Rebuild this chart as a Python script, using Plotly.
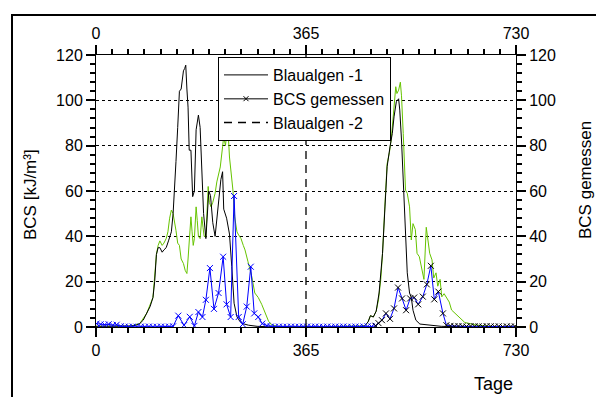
import plotly.graph_objects as go

# ---------------- data ----------------
# Blaualgen -1 (black line), year 1 and 2
black_days = [0, 30, 60, 70, 76, 82, 88, 94, 99, 102, 105, 108, 111, 115, 118, 122, 126, 131, 134, 137,
              139, 142, 145, 148, 150, 152, 154, 156, 158, 160, 162, 165, 168, 171, 174, 176, 178, 181,
              184, 187, 191, 194, 196, 199, 203, 207, 210, 213, 217, 220, 222, 227, 232, 236, 240, 245,
              250, 255, 265, 280, 300, 364,
              365, 460, 467, 473, 477, 482, 487, 492, 498, 502, 506, 511, 515, 518, 522, 526, 528, 531,
              534, 538, 541, 545, 548, 551, 556, 563, 575, 600, 640, 730]
black_vals = [0.3, 0.3, 0.4, 0.8, 1.5, 3, 6, 9, 13, 20, 32, 35, 35, 33, 34, 35, 38, 42, 50, 62,
              73, 88, 104, 105, 110, 113, 114, 115.5, 105, 97, 78, 78, 57.5, 60, 87, 90, 93.5, 88,
              68, 50, 39, 50, 60, 58, 46, 40, 48, 56, 65, 68.5, 52, 48, 41, 26.6, 10.5, 4.5,
              2.5, 1.5, 0.8, 0.3, 0.1, 0,
              0, 0.1, 0.5, 2.3, 5, 4.4, 7, 15, 32.5, 53, 70.7, 79.5, 85.4, 92.7, 99.4, 100.7, 95.7, 82.5,
              63.4, 41.4, 23.9, 15, 13, 7.4, 3, 1.3, 0.9, 0.3, 0.1, 0]

# green simulation curve
green_days = [0, 60, 76, 88, 99, 105, 108, 111, 115, 118, 122, 125, 128, 131, 134, 137, 139, 142, 145,
              148, 152, 155, 158, 160, 162, 165, 167, 169, 171, 174, 176, 178, 181, 184, 186, 188, 191,
              193, 195, 197, 200, 203, 207, 210, 213, 216, 220, 222, 225, 227, 229, 232, 235, 238, 241,
              245, 247, 252, 256, 259, 264, 268, 271, 276, 282, 288, 294, 300, 305, 315, 364,
              365, 467, 473, 477, 482, 487, 491, 495, 498, 502, 506, 510, 513, 517, 521, 523, 526, 529,
              531, 534, 538, 541, 545, 548, 551, 555, 558, 562, 566, 570, 574, 577, 580, 584, 587, 591,
              594, 598, 601, 605, 609, 614, 618, 624, 630, 636, 641, 650, 660, 680, 700, 730]
green_vals = [0.3, 0.4, 1.5, 6, 13, 32, 36, 38, 36, 37, 39, 42, 48, 51.6, 50, 46, 42.6, 37, 36,
              30, 28, 25, 23.6, 30, 38, 48.6, 42, 36, 39, 53, 47, 40, 39, 48.6, 44, 40, 39.7,
              50, 62, 55, 53, 55, 59, 64, 68, 70.6, 79.5, 84, 80, 86, 89, 75, 68, 60.4, 48.6,
              42, 41, 39, 36, 34, 29, 25, 22, 15, 13, 10, 6, 2.5, 1, 0.3, 0,
              0, 0.5, 2.3, 5, 4.4, 7, 12, 21, 32.5, 53, 72, 77, 82.5, 94, 106, 103, 104.5, 108,
              102, 85.4, 60.4, 59, 53, 38.4, 45.6, 43, 32.5, 31, 26.6, 21, 44, 38.4, 32.5, 29.6, 21.6, 23.9,
              18, 21, 13.3, 14.7, 13.3, 11, 7.5, 6, 4.6, 3.1, 2, 1.5, 0.9, 0.4, 0.1, 0]

# BCS gemessen, year 1 (blue line, blue markers)
meas1_days = [1, 8, 15, 22, 29, 36, 43, 50, 57, 64, 71, 78, 85, 92, 99, 106, 113, 120, 127, 134,
              143, 153, 163, 171, 178, 185, 191, 198, 205, 213, 221, 227, 234, 240, 248, 255, 262,
              269, 275, 282, 289, 297, 304, 311, 318, 325, 332, 339, 346, 353, 360,
              367, 374, 381, 388, 395, 402, 409, 416, 423, 430, 437, 444, 451, 458, 465, 472, 479, 486]
meas1_vals = [1.5, 1.2, 1.0, 1.2, 0.8, 1.0, 0.3, 0.2, 0.1, 0.2, 0.1, 0.2, 0.1, 0.2, 0.1, 0.1, 0.2, 0.1, 0.2, 0.3,
              5, 0.8, 4.5, 0.5, 6.6, 4.4, 12, 26, 8, 15, 31, 10, 4.4, 57.8, 4.4, 1.2, 9,
              26.6, 6, 4.4, 1.5, 0.6, 0.2, 0.1, 0.2, 0.1, 0.1, 0.2, 0.1, 0.1, 0.2,
              0.2, 0.1, 0.2, 0.1, 0.1, 0.2, 0.1, 0.2, 0.1, 0.2, 0.1, 0.1, 0.2, 0.1, 0.2, 0.3, 0.2, 0.5]

# BCS gemessen, year 2 (blue line, black markers)
meas2_days = [486, 491, 497, 504, 511, 518, 525, 532, 539, 546, 553, 560, 568, 575, 582, 588, 595, 603,
              609, 616, 623, 630, 637, 644, 651, 658, 665, 672, 679, 686, 693, 700, 707, 714, 721, 728]
meas2_vals = [0.5, 1.7, 3, 6, 3.6, 8.2, 17.4, 12.6, 7.4, 12.6, 13, 10, 13.4, 18.8, 27, 12.2, 15.6, 6,
              0.8, 0.5, 0.3, 0.4, 0.3, 0.2, 0.4, 0.3, 0.3, 0.2, 0.4, 0.3, 0.2, 0.3, 0.1, 0.3, 0.2, 0.3]

# year separator (Blaualgen -2 dashed)
sep_days = [365, 365]
sep_vals = [0, 120]

FONT = "Arial, Liberation Sans, sans-serif"

fig = go.Figure()

fig.add_trace(go.Scatter(x=green_days, y=green_vals, mode="lines",
                         line=dict(color="#66c400", width=1), showlegend=False))
fig.add_trace(go.Scatter(x=black_days, y=black_vals, mode="lines", name="Blaualgen -1",
                         line=dict(color="black", width=1)))
fig.add_trace(go.Scatter(x=[None], y=[None], mode="lines+markers", name="BCS gemessen",
                         line=dict(color="#555555", width=1.5),
                         marker=dict(symbol="x-thin", size=5, line=dict(color="black", width=1))))
fig.add_trace(go.Scatter(x=sep_days, y=sep_vals, mode="lines", name="Blaualgen -2",
                         line=dict(color="black", width=1.3, dash="8px,6px"), xaxis="x2"))
fig.add_trace(go.Scatter(x=meas1_days, y=meas1_vals, mode="lines+markers", showlegend=False,
                         line=dict(color="#0000ff", width=1),
                         marker=dict(symbol="x-thin", size=6, line=dict(color="#0000ff", width=1)),
                         yaxis="y2"))
fig.add_trace(go.Scatter(x=meas2_days, y=meas2_vals, mode="lines+markers", showlegend=False,
                         line=dict(color="#0000ff", width=1),
                         marker=dict(symbol="x-thin", size=6, line=dict(color="black", width=1)),
                         yaxis="y2"))

cx = dict(range=[0, 730], tickmode="linear", tick0=0, dtick=365, ticks="outside", ticklen=9,
          tickwidth=1.5, tickcolor="black", showline=True, linecolor="black", showgrid=False,
          zeroline=False, tickfont=dict(family=FONT, size=16, color="black"),
          minor=dict(tickmode="linear", tick0=0, dtick=365 / 13, ticks="outside", ticklen=5,
                     tickcolor="black", tickwidth=1.5, showgrid=False))
cy = dict(range=[0, 120], tickmode="linear", tick0=0, dtick=20, ticks="outside", ticklen=9,
          tickwidth=1.5, tickcolor="black", showline=True, linecolor="black", zeroline=False,
          tickfont=dict(family=FONT, size=16, color="black"),
          minor=dict(tickmode="linear", tick0=0, dtick=4, ticks="outside", ticklen=5,
                     tickcolor="black", tickwidth=1.5, showgrid=False))

fig.update_layout(
    width=596, height=397,
    margin=dict(l=96, r=80, t=55, b=70),
    paper_bgcolor="white", plot_bgcolor="white",
    xaxis=dict(**cx, side="bottom"),
    xaxis2=dict(**cx, side="top", overlaying="x", anchor="y"),
    yaxis=dict(**cy, side="left", showgrid=True, gridcolor="black", griddash="dot"),
    yaxis2=dict(**cy, side="right", overlaying="y", anchor="x", showgrid=False),
    legend=dict(x=(218 - 96) / 420, y=1 - (57 - 55) / 272, xanchor="left", yanchor="top",
                bgcolor="white", bordercolor="black", borderwidth=1, itemwidth=44,
                font=dict(family=FONT, size=16, color="black"), tracegroupgap=0),
    showlegend=True,
    shapes=[dict(type="line", xref="paper", yref="paper",
                 x0=(12 - 96) / 420, x1=(12 - 96) / 420, y0=-0.3, y1=1 + (55 - 14) / 272,
                 line=dict(color="black", width=2)),
            dict(type="line", xref="paper", yref="paper",
                 x0=(11 - 96) / 420, x1=1.3, y0=1 + (55 - 15) / 272, y1=1 + (55 - 15) / 272,
                 line=dict(color="black", width=2))],
    annotations=[
        dict(text="BCS [kJ/m³]", xref="paper", yref="paper", x=(30 - 96) / 420, y=(327 - 195) / 272,
             textangle=-90, showarrow=False, xanchor="center", yanchor="middle",
             font=dict(family=FONT, size=17, color="black")),
        dict(text="BCS gemessen", xref="paper", yref="paper", x=(585 - 96) / 420, y=(327 - 180) / 272,
             textangle=-90, showarrow=False, xanchor="center", yanchor="middle",
             font=dict(family=FONT, size=17, color="black")),
        dict(text="Tage", xref="paper", yref="paper", x=(493 - 96) / 420, y=(327 - 384) / 272,
             showarrow=False, xanchor="center", yanchor="middle",
             font=dict(family=FONT, size=18, color="black")),
    ],
)

fig.write_html("out.html")
